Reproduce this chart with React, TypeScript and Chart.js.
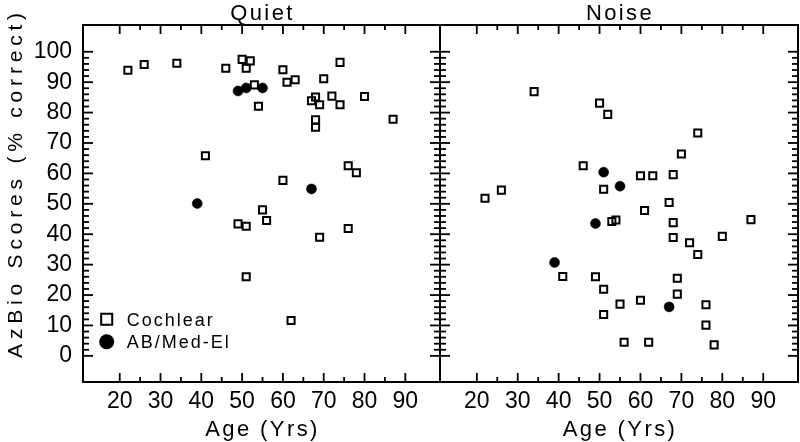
import React, { useEffect, useRef } from 'react';
import { Chart, registerables } from 'chart.js';

Chart.register(...registerables);

const panelTitles = ['Quiet', 'Noise'];
const seriesNames = ['Cochlear', 'AB/Med-El'];
const xAxisTitle = 'Age (Yrs)';
const yAxisTitle = 'AzBio Scores (% correct)';
const xTickValues = [20, 30, 40, 50, 60, 70, 80, 90];
const yTickValues = [0, 10, 20, 30, 40, 50, 60, 70, 80, 90, 100];

const quietCochlearAge = [22, 26, 34, 46, 50, 52, 51, 53, 54, 41, 60, 61, 63, 74, 70, 67, 68, 69, 72, 74, 80, 87, 68, 68, 76, 78, 60, 55, 56, 76, 69, 49, 51, 51, 62];
const quietCochlearScore = [93.9, 95.8, 96.2, 94.6, 97.5, 97.0, 94.6, 89.1, 82.1, 65.8, 94.1, 90.0, 90.8, 96.5, 91.1, 83.9, 85.1, 82.6, 85.4, 82.6, 85.3, 77.8, 77.6, 75.2, 62.5, 60.2, 57.7, 48.0, 44.5, 41.9, 39.0, 43.4, 42.6, 26.0, 11.6];
const quietAbAge = [49, 51, 55, 67, 39];
const quietAbScore = [87.1, 88.1, 88.1, 54.9, 50.1];

const noiseCochlearAge = [34, 50, 52, 46, 51, 26, 22, 53, 54, 74, 70, 60, 63, 68, 67, 61, 68, 87, 68, 72, 74, 80, 69, 69, 51, 51, 55, 60, 76, 76, 56, 62, 78, 41, 49];
const noiseCochlearScore = [86.9, 83.1, 79.4, 62.5, 54.8, 54.5, 51.8, 44.2, 44.7, 73.3, 66.4, 59.2, 59.2, 59.6, 50.4, 47.8, 43.8, 44.8, 38.9, 37.2, 33.3, 39.3, 25.5, 20.3, 21.9, 13.6, 17.0, 18.3, 16.8, 10.1, 4.5, 4.5, 3.6, 26.1, 26.0];
const noiseAbAge = [51, 55, 49, 39, 67];
const noiseAbScore = [60.4, 55.8, 43.5, 30.7, 16.1];

const X_MIN = 11;
const X_MAX = 98.5;
const Y_MIN = -8.6;
const Y_MAX = 108.8;
const X_MINOR_STEP = 5;
const Y_MINOR_STEP = 2;

const TEXT_FONT = "'Liberation Sans', Arial, sans-serif";
const TICK_FONT = "'Liberation Sans Narrow', 'Liberation Sans', Arial, sans-serif";

function drawFrame(chart: any) {
  const ctx = chart.ctx as CanvasRenderingContext2D;
  const area = chart.chartArea;
  const left = area.left;
  const right = area.right;
  const top = area.top;
  const bottom = area.bottom;
  const xs = chart.scales['x'];
  const ys = chart.scales['y'];
  ctx.save();
  ctx.fillStyle = '#000';
  const tw = 1.8;
  const xFirst = xTickValues[0];
  const xLast = xTickValues[xTickValues.length - 1];
  for (let v = xFirst; v <= xLast + 0.001; v += X_MINOR_STEP) {
    const major = xTickValues.indexOf(v) >= 0;
    const len = major ? 9 : 5;
    const px = xs.getPixelForValue(v);
    ctx.fillRect(px - tw / 2, bottom - len, tw, len);
    ctx.fillRect(px - tw / 2, top, tw, len);
  }
  const yFirst = yTickValues[0];
  const yLast = yTickValues[yTickValues.length - 1];
  for (let v = yFirst; v <= yLast + 0.001; v += Y_MINOR_STEP) {
    const major = yTickValues.indexOf(v) >= 0;
    const len = major ? 10 : 6;
    const py = ys.getPixelForValue(v);
    ctx.fillRect(left, py - tw / 2, len, tw);
    ctx.fillRect(right - len, py - tw / 2, len, tw);
  }
  ctx.strokeStyle = '#000';
  ctx.lineWidth = 2;
  ctx.beginPath();
  ctx.rect(left, top, right - left, bottom - top);
  ctx.stroke();
  ctx.restore();
}

const decoPlugin = {
  id: 'deco',
  afterDatasetsDraw(chart: any) {
    drawFrame(chart);
  },
  afterDraw(chart: any, _args: any, opts: any) {
    const ctx = chart.ctx as CanvasRenderingContext2D;
    const { left, right, bottom } = chart.chartArea;
    ctx.save();
    ctx.fillStyle = '#000';
    ctx.strokeStyle = '#000';

    const cx = (left + right) / 2;
    (ctx as any).letterSpacing = '2.4px';
    ctx.font = `22px ${TEXT_FONT}`;
    ctx.textAlign = 'center';
    ctx.textBaseline = 'alphabetic';
    ctx.fillText(opts.title, cx + 1, 20);
    ctx.fillText(xAxisTitle, cx + 1, 436);

    if (opts.yTitle) {
      ctx.save();
      (ctx as any).letterSpacing = '4.8px';
      ctx.translate(22, 183);
      ctx.rotate(-Math.PI / 2);
      ctx.font = `21px ${TEXT_FONT}`;
      ctx.fillText(yAxisTitle, 0, 0);
      ctx.restore();
    }

    if (opts.legend) {
      const mx = left + 23.7;
      const tx = left + 43.7;
      ctx.textAlign = 'left';
      ctx.font = `18px ${TEXT_FONT}`;
      (ctx as any).letterSpacing = '2px';
      chart.data.datasets.forEach((ds: any, i: number) => {
        const cy = i === 0 ? bottom - 62.7 : bottom - 40.3;
        const base = i === 0 ? bottom - 56 : bottom - 34;
        if (ds.pointStyle === 'rect') {
          ctx.lineWidth = 2;
          ctx.beginPath();
          ctx.rect(mx - 5.5, cy - 5.5, 11, 11);
          ctx.stroke();
        } else {
          ctx.beginPath();
          ctx.arc(mx, cy, 7.5, 0, Math.PI * 2);
          ctx.fill();
        }
        ctx.fillText(ds.label, tx, base);
      });
    }
    ctx.restore();
  },
};

function buildChart(
  canvas: HTMLCanvasElement,
  isLeft: boolean,
  title: string,
  cAge: number[],
  cScore: number[],
  aAge: number[],
  aScore: number[]
) {
  return new Chart(canvas, {
    type: 'scatter',
    data: {
      datasets: [
        {
          label: seriesNames[0],
          data: cAge.map((x, i) => ({ x, y: cScore[i] })),
          pointStyle: 'rect',
          pointRadius: 5,
          pointHoverRadius: 5,
          borderColor: '#000',
          backgroundColor: 'rgba(0,0,0,0)',
          borderWidth: 2,
          order: 1,
        },
        {
          label: seriesNames[1],
          data: aAge.map((x, i) => ({ x, y: aScore[i] })),
          pointStyle: 'circle',
          pointRadius: 5,
          pointHoverRadius: 5,
          borderColor: '#000',
          backgroundColor: '#000',
          borderWidth: 0.5,
          order: 2,
        },
      ],
    } as any,
    options: {
      animation: false,
      responsive: false,
      events: [],
      layout: { autoPadding: false, padding: { top: 25, right: isLeft ? 1 : 2, left: 0, bottom: 0 } },
      plugins: {
        legend: { display: false },
        tooltip: { enabled: false },
        title: { display: false },
        deco: { title, yTitle: isLeft, legend: isLeft },
      } as any,
      scales: {
        x: {
          type: 'linear',
          min: X_MIN,
          max: X_MAX,
          grid: { display: false, drawTicks: false },
          border: { display: false },
          ticks: {
            color: '#000',
            padding: 6,
            maxRotation: 0,
            font: { family: TICK_FONT, size: 23 },
          },
          afterBuildTicks: (s: any) => {
            s.ticks = xTickValues.map((v) => ({ value: v }));
          },
          afterFit: (s: any) => {
            s.height = 60;
          },
        },
        y: {
          type: 'linear',
          display: isLeft,
          min: Y_MIN,
          max: Y_MAX,
          grid: { display: false, drawTicks: false },
          border: { display: false },
          ticks: {
            color: '#000',
            padding: 11,
            font: { family: TICK_FONT, size: 23 },
          },
          afterBuildTicks: (s: any) => {
            s.ticks = yTickValues.map((v) => ({ value: v }));
          },
          afterFit: (s: any) => {
            s.width = isLeft ? 83 : 0;
          },
        },
      },
    } as any,
    plugins: [decoPlugin],
  });
}

export default function App() {
  const leftRef = useRef<HTMLCanvasElement>(null);
  const rightRef = useRef<HTMLCanvasElement>(null);

  useEffect(() => {
    const c1 = buildChart(leftRef.current!, true, panelTitles[0], quietCochlearAge, quietCochlearScore, quietAbAge, quietAbScore);
    const c2 = buildChart(rightRef.current!, false, panelTitles[1], noiseCochlearAge, noiseCochlearScore, noiseAbAge, noiseAbScore);
    return () => {
      c1.destroy();
      c2.destroy();
    };
  }, []);

  return (
    <div style={{ position: 'absolute', left: 0, top: 0, width: 800, height: 442, background: '#fff', overflow: 'hidden' }}>
      <canvas ref={leftRef} width={441} height={442} style={{ position: 'absolute', left: 0, top: 0, width: 441, height: 442 }} />
      <canvas ref={rightRef} width={360} height={442} style={{ position: 'absolute', left: 440, top: 0, width: 360, height: 442 }} />
    </div>
  );
}
